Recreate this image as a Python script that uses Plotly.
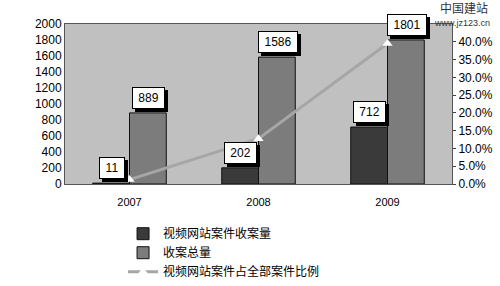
import plotly.graph_objects as go

years = ["2007", "2008", "2009"]
video_cases = [11, 202, 712]
total_cases = [889, 1586, 1801]
ratio = [v / t for v, t in zip(video_cases, total_cases)]
left_ticks = list(range(0, 2001, 200))
right_ticks = [i * 0.05 for i in range(9)]
right_labels = [f"{i*5:.1f}%" for i in range(9)]

names = ["视频网站案件收案量", "收案总量", "视频网站案件占全部案件比例"]
FONT = "Liberation Sans, Arial, Noto Sans CJK SC, sans-serif"

fig = go.Figure()
fig.add_trace(go.Bar(x=years, y=video_cases, name=names[0],
                     marker=dict(color="#3a3a3a", line=dict(color="#111", width=1))))
fig.add_trace(go.Bar(x=years, y=total_cases, name=names[1],
                     marker=dict(color="#7c7c7c", line=dict(color="#111", width=1))))
fig.add_trace(go.Scatter(x=years, y=ratio, name=names[2], yaxis="y2", mode="lines+markers",
                         line=dict(color="#a6a6a6", width=3),
                         marker=dict(symbol="triangle-up", size=9, color="white",
                                     line=dict(color="white", width=0))))

annotations = []
for series, shift in ((video_cases, -18), (total_cases, 19)):
    for i, v in enumerate(series):
        txt = str(v)
        w = 7 * len(txt) + 6
        common = dict(x=i, y=v, xref="x", yref="y", showarrow=False, yanchor="bottom",
                      borderpad=2, borderwidth=1, width=w, height=16)
        annotations.append(dict(common, text=" ", xshift=shift + 3, yshift=1, bgcolor="#000",
                                bordercolor="#000", font=dict(family=FONT, size=12)))
        annotations.append(dict(common, text=txt, xshift=shift, yshift=4, bgcolor="white",
                                bordercolor="#000", font=dict(family=FONT, size=12, color="#000")))

annotations.append(dict(x=1.0, y=1.105, xref="paper", yref="paper", text="中国建站",
                        showarrow=False, xanchor="left", yanchor="middle", xshift=-14,
                        font=dict(family="Noto Sans CJK SC", size=12, color="#333")))
annotations.append(dict(x=1.0, y=1.008, xref="paper", yref="paper", text="www.jz123.cn",
                        showarrow=False, xanchor="left", yanchor="middle", xshift=-20,
                        font=dict(family=FONT, size=9, color="#333")))

fig.update_layout(
    width=500, height=286,
    margin=dict(l=65, r=48, t=24, b=102, autoexpand=False),
    paper_bgcolor="white", plot_bgcolor="#c0c0c0",
    barmode="group", bargap=0.43, bargroupgap=0,
    font=dict(family=FONT, size=11, color="#000"),
    xaxis=dict(type="category", range=[-0.5, 2.5], showgrid=False, showline=True,
               linecolor="#555", mirror=True, ticks="outside", ticklen=8,
               tickcolor="rgba(0,0,0,0)", tickfont=dict(size=11)),
    yaxis=dict(range=[0, 2000], tickvals=left_ticks, showgrid=False, showline=True,
               linecolor="#555", mirror=True, ticks="", tickfont=dict(size=12),
               zeroline=False),
    yaxis2=dict(range=[0, 0.45], tickvals=right_ticks, ticktext=right_labels,
                overlaying="y", side="right", showgrid=False, ticks="outside",
                ticklen=3, tickfont=dict(size=12), zeroline=False),
    legend=dict(orientation="v", x=0.15, y=-0.22, xanchor="left", yanchor="top",
                font=dict(family="Noto Sans CJK SC", size=12), tracegroupgap=0,
                bgcolor="rgba(0,0,0,0)"),
    annotations=annotations,
    showlegend=True,
)

fig.write_html("out.html")
